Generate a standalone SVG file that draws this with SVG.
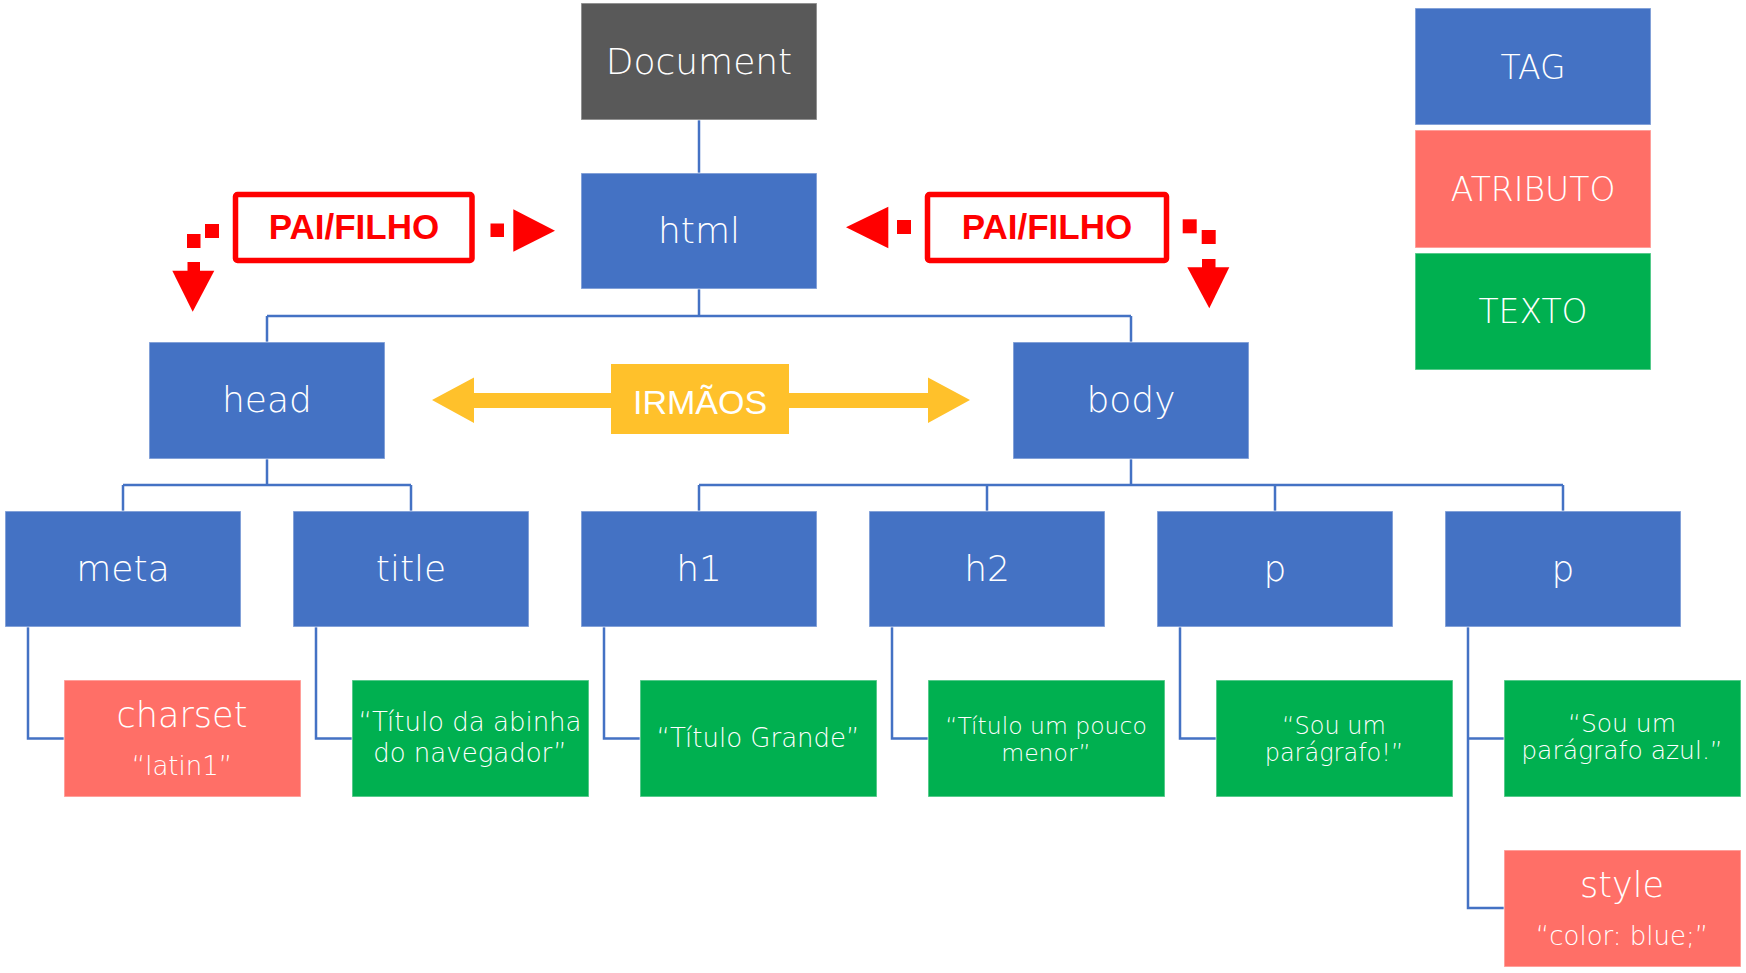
<svg xmlns="http://www.w3.org/2000/svg" width="1746" height="973" viewBox="0 0 1746 973">
<style>
.box{stroke:#ffffff;stroke-opacity:0.45;stroke-width:1.5}
.tag{fill:#4472C4}
.doc{fill:#595959}
.attr{fill:#FF6F67}
.txt{fill:#00B050}
.t{font-family:"DejaVu Sans",sans-serif;font-weight:200;fill:#ffffff;text-anchor:middle}
.big{font-size:36px}
.leg{font-size:33px}
.mid{font-size:26px}
.sm{font-size:24px}
.con{fill:none;stroke:#4472C4;stroke-width:2.5}
.red{fill:#FF0000}
.pf{fill:#ffffff;stroke:#FF0000;stroke-width:5.5}
.pft{font-family:"Liberation Sans",Arial,sans-serif;font-weight:bold;font-size:35px;fill:#FF0000;text-anchor:middle}
</style>
<rect width="1746" height="973" fill="#ffffff"/>

<g id="connectors">
  <path class="con" d="M699 120 V173"/>
  <path class="con" d="M699 289 V316 M267 316 H1131 M267 316 V342 M1131 316 V342"/>
  <path class="con" d="M267 459 V485 M123 485 H411 M123 485 V511 M411 485 V511"/>
  <path class="con" d="M1131 459 V485 M699 485 H1563 M699 485 V511 M987 485 V511 M1275 485 V511 M1563 485 V511"/>
  <path class="con" d="M28 627 V738.5 H64"/>
  <path class="con" d="M316 627 V738.5 H352"/>
  <path class="con" d="M604 627 V738.5 H640"/>
  <path class="con" d="M892 627 V738.5 H928"/>
  <path class="con" d="M1180 627 V738.5 H1216"/>
  <path class="con" d="M1468 627 V908 H1504 M1468 738.5 H1504"/>
</g>

<g id="document"><rect class="box doc" x="581" y="3" width="236" height="117"/><text class="t big" x="699" y="74">Document</text></g>
<g id="html"><rect class="box tag" x="581" y="173" width="236" height="116"/><text class="t big" x="699" y="243">html</text></g>
<g id="head"><rect class="box tag" x="149" y="342" width="236" height="117"/><text class="t big" x="267" y="412">head</text></g>
<g id="body"><rect class="box tag" x="1013" y="342" width="236" height="117"/><text class="t big" x="1131" y="412">body</text></g>

<g id="meta"><rect class="box tag" x="5" y="511" width="236" height="116"/><text class="t big" x="123" y="581">meta</text></g>
<g id="title"><rect class="box tag" x="293" y="511" width="236" height="116"/><text class="t big" x="411" y="581">title</text></g>
<g id="h1"><rect class="box tag" x="581" y="511" width="236" height="116"/><text class="t big" x="699" y="581">h1</text></g>
<g id="h2"><rect class="box tag" x="869" y="511" width="236" height="116"/><text class="t big" x="987" y="581">h2</text></g>
<g id="p1"><rect class="box tag" x="1157" y="511" width="236" height="116"/><text class="t big" x="1275" y="581">p</text></g>
<g id="p2"><rect class="box tag" x="1445" y="511" width="236" height="116"/><text class="t big" x="1563" y="581">p</text></g>

<g id="charset"><rect class="box attr" x="64" y="680" width="237" height="117"/><text class="t" x="182" y="727" font-size="35">charset</text><text class="t mid" x="182" y="775">“latin1”</text></g>
<g id="titletext"><rect class="box txt" x="352" y="680" width="237" height="117"/><text class="t mid" x="470" y="731">“Título da abinha</text><text class="t mid" x="470" y="762">do navegador”</text></g>
<g id="h1text"><rect class="box txt" x="640" y="680" width="237" height="117"/><text class="t mid" x="758" y="747">“Título Grande”</text></g>
<g id="h2text"><rect class="box txt" x="928" y="680" width="237" height="117"/><text class="t" font-size="23.5" x="1046" y="734">“Título um pouco</text><text class="t" font-size="23.5" x="1046" y="761">menor”</text></g>
<g id="p1text"><rect class="box txt" x="1216" y="680" width="237" height="117"/><text class="t sm" x="1334" y="734">“Sou um</text><text class="t sm" x="1334" y="761">parágrafo!”</text></g>
<g id="p2text"><rect class="box txt" x="1504" y="680" width="237" height="117"/><text class="t" font-size="25" x="1622" y="732">“Sou um</text><text class="t" font-size="25" x="1622" y="759">parágrafo azul.”</text></g>
<g id="style"><rect class="box attr" x="1504" y="850" width="237" height="117"/><text class="t" x="1622" y="897" font-size="35">style</text><text class="t mid" x="1622" y="945">“color: blue;”</text></g>

<g id="legend-tag"><rect class="box tag" x="1415" y="8" width="236" height="117"/><text class="t leg" x="1533" y="79">TAG</text></g>
<g id="legend-atributo"><rect class="box attr" x="1415" y="130" width="236" height="118"/><text class="t leg" x="1533" y="201">ATRIBUTO</text></g>
<g id="legend-texto"><rect class="box txt" x="1415" y="253" width="236" height="117"/><text class="t leg" x="1533" y="323">TEXTO</text></g>

<g id="irmaos">
  <polygon fill="#FFC12B" points="432,400 474,377.5 474,393 928,393 928,377.5 970,400 928,423 928,408 474,408 474,423"/>
  <rect fill="#FFC12B" x="611" y="364" width="178" height="70"/>
  <text x="700" y="414" font-family="Liberation Sans, Arial, sans-serif" font-size="34" fill="#ffffff" text-anchor="middle">IRMÃOS</text>
</g>

<g id="paifilho-left">
  <rect class="pf" x="235.5" y="194.5" width="236.5" height="66" rx="2"/>
  <text class="pft" x="354" y="239">PAI/FILHO</text>
  <rect class="red" x="205" y="224" width="14" height="14"/>
  <rect class="red" x="187" y="234" width="13.5" height="14"/>
  <rect class="red" x="187.5" y="262" width="12.5" height="9"/>
  <polygon class="red" points="172.3,270.7 214.3,270.7 192.7,311.7"/>
  <rect class="red" x="490.5" y="223.5" width="13.5" height="13.5"/>
  <polygon class="red" points="513.3,209.3 555,230.7 513.3,251.7"/>
</g>

<g id="paifilho-right">
  <rect class="pf" x="927.5" y="194.5" width="239" height="66" rx="2"/>
  <text class="pft" x="1047" y="239">PAI/FILHO</text>
  <polygon class="red" points="846,227.3 888.3,206.7 888.3,248.3"/>
  <rect class="red" x="897" y="220" width="14" height="14"/>
  <rect class="red" x="1182.7" y="219.3" width="14" height="14"/>
  <rect class="red" x="1201.7" y="230" width="14" height="14"/>
  <rect class="red" x="1202" y="259" width="13.5" height="9"/>
  <polygon class="red" points="1187.3,267.3 1229.3,267.3 1209.3,308.3"/>
</g>
</svg>
